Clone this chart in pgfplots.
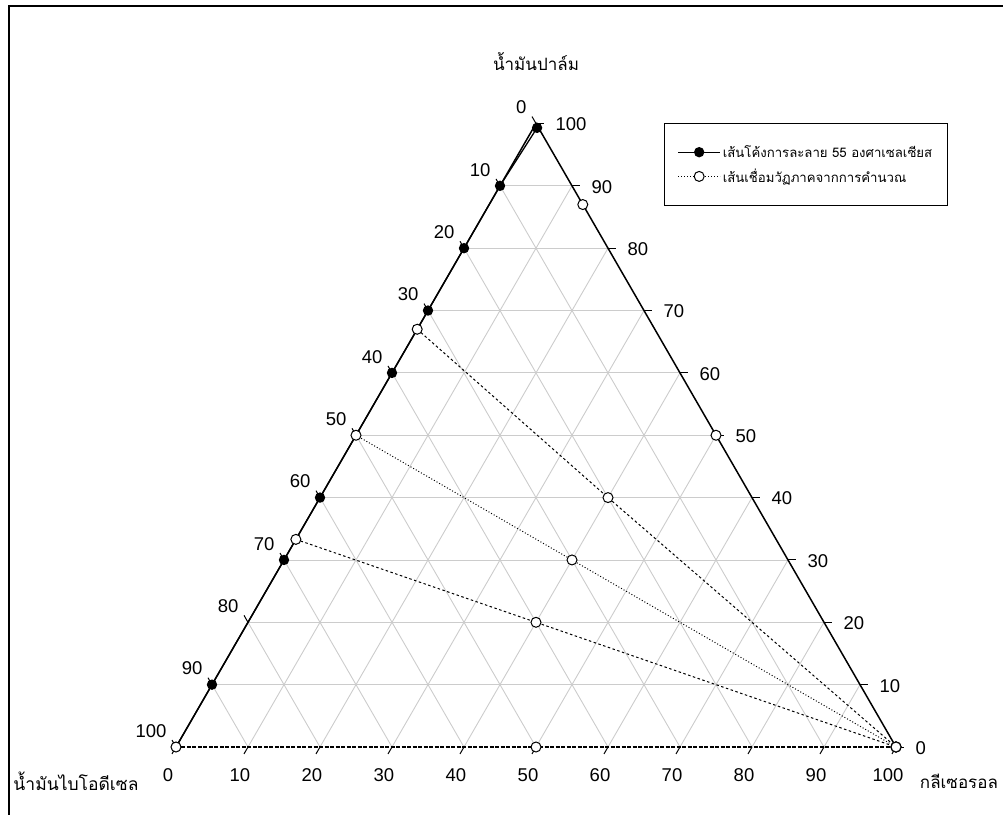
\documentclass[border=0pt]{standalone}
\usepackage{fontspec}
\setmainfont{Liberation Sans}
\newfontfamily\thaifont[Script=Thai]{Loma}
\usepackage{pgfplots}
\usepackage{pgfplotstable}
\pgfplotsset{compat=1.18}
\pgfplotsset{table/tern/.style={x expr=\thisrow{g}+0.5*\thisrow{p}, y expr=0.8660254*\thisrow{p}}}

% ternary data: p = palm oil (%), g = glycerol (%)
\pgfplotstableread{
p g
99.3 0.5
90 0
80 0
70 0
60 0
40 0
30 0
10 0
0 0
}\curve
\pgfplotstableread{
p g
67 0
40 40
0 100
}\tieA
\pgfplotstableread{
p g
50 0
30 40
0 100
}\tieB
\pgfplotstableread{
p g
33.3 0
20 40
0 100
}\tieC
\pgfplotstableread{
p g
0 0
0 50
0 100
}\tieD
\pgfplotstableread{
p g
87 13
50 50
}\rightpts

\begin{document}
\begin{tikzpicture}
\begin{axis}[
  at={(0,0)}, anchor=south west,
  scale only axis, width=720pt, height=623.5pt,
  xmin=0, xmax=100, ymin=0, ymax=86.60254,
  hide axis, clip=false,
  legend style={at={(0.6778,1.0008)}, anchor=north west, draw=black, line width=1pt,
    font=\thaifont\fontsize{13.2}{15}\selectfont,
    inner xsep=13pt, inner ysep=20pt, row sep=6pt, cells={anchor=west}},
  legend image code/.code={\draw[mark repeat=2,mark phase=2,#1] plot coordinates {(0pt,0pt) (21pt,0pt) (42pt,0pt)};},
  openm/.style={mark=*, mark size=5pt, mark options={solid, fill=white, draw=black, line width=1pt}},
]
\addlegendimage{black, line width=1.3pt, mark=*, mark size=4.5pt, mark options={solid, fill=black}}
\addlegendentry{เส้นโค้งการละลาย 55 องศาเซลเซียส}
\addlegendimage{black, line width=1pt, dotted, openm}
\addlegendentry{เส้นเชื่อมวัฏภาคจากการคำนวณ}

% grid
\pgfplotsinvokeforeach{1,...,9}{
  \draw[gray!40, line width=0.9pt] (axis cs:{5*#1},{8.660254*#1}) -- (axis cs:{100-5*#1},{8.660254*#1});
  \draw[gray!40, line width=0.9pt] (axis cs:{10*#1},0) -- (axis cs:{50+5*#1},{86.60254-8.660254*#1});
  \draw[gray!40, line width=0.9pt] (axis cs:{100-10*#1},0) -- (axis cs:{50-5*#1},{86.60254-8.660254*#1});
}
% edges
\draw[black, line width=1.5pt] (axis cs:0,0) -- (axis cs:50,86.60254) -- (axis cs:100,0);
% ticks and tick labels
\pgfplotsinvokeforeach{0,...,10}{
  \draw[black, line width=1pt] (axis cs:{10*#1},0) -- ++(-4pt,-6.93pt);
  \node[font=\fontsize{18.5}{20}\selectfont, anchor=north] at (axis cs:{10*#1},0) [xshift=-8pt, yshift=-18pt] {\the\numexpr10*#1\relax};
  \draw[black, line width=1pt] (axis cs:{100-5*#1},{8.660254*#1}) -- ++(8pt,0pt);
  \node[font=\fontsize{18.5}{20}\selectfont, anchor=west] at (axis cs:{100-5*#1},{8.660254*#1}) [xshift=16pt, yshift=-1pt] {\the\numexpr10*#1\relax};
  \draw[black, line width=1pt] (axis cs:{5*#1},{8.660254*#1}) -- ++(-4pt,6.93pt);
  \node[font=\fontsize{18.5}{20}\selectfont, anchor=south east] at (axis cs:{5*#1},{8.660254*#1}) [xshift=-6pt, yshift=6pt] {\the\numexpr100-10*#1\relax};
}

% solubility curve
\addplot[forget plot, black, line width=1.3pt, mark=*, mark size=4.5pt, mark options={fill=black}] table[tern] {\curve};
% tie lines
\addplot[forget plot, black, line width=1pt, dash pattern=on 2.5pt off 2.5pt, openm] table[tern] {\tieA};
\addplot[forget plot, black, line width=1pt, dotted, openm] table[tern] {\tieB};
\addplot[forget plot, black, line width=1pt, dash pattern=on 2.5pt off 2.5pt, openm] table[tern] {\tieC};
\addplot[forget plot, black, line width=1.6pt, dash pattern=on 4pt off 1.5pt, openm] table[tern] {\tieD};
\addplot[forget plot, only marks, openm] table[tern] {\rightpts};

% corner titles
\node[font=\thaifont\fontsize{17}{19}\selectfont, anchor=base] at (axis cs:50,94.0) {น้ำมันปาล์ม};
\node[font=\thaifont\fontsize{17.5}{19}\selectfont, anchor=base west, inner sep=0pt] at (axis cs:-22.6,-6.1) {น้ำมันไบโอดีเซล};
\node[font=\thaifont\fontsize{17}{19}\selectfont, anchor=base west, inner sep=0pt] at (axis cs:103.3,-5.8) {กลีเซอรอล};
\end{axis}
\draw[line width=2pt] (-167pt,-120pt) -- (-167pt,741pt) -- (900pt,741pt);
\pgfresetboundingbox
\path[use as bounding box] (-176pt,-67pt) rectangle (827pt,747pt);
\end{tikzpicture}
\end{document}
